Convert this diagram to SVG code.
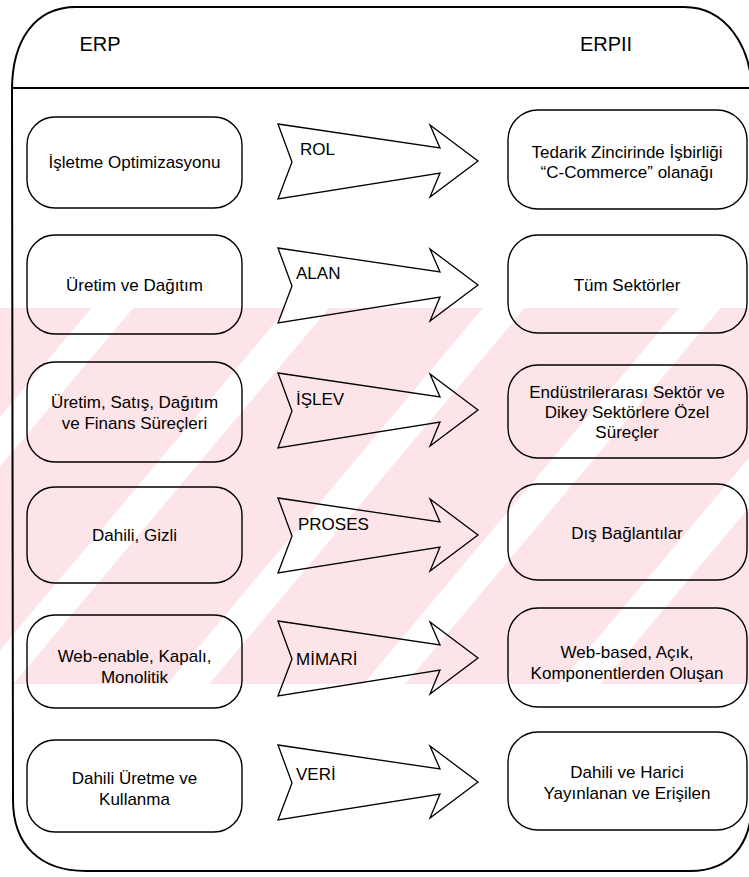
<svg xmlns="http://www.w3.org/2000/svg" width="749" height="877" viewBox="0 0 749 877">
  <style>
    .frame { fill: none; stroke: #000; stroke-width: 2; }
    .box { fill: none; stroke: #000; stroke-width: 1.4; }
    .arrow { fill: none; stroke: #000; stroke-width: 1.3; stroke-linejoin: miter; }
    .head { font-family: "Liberation Sans", Arial, sans-serif; font-size: 20px; fill: #000; text-anchor: middle; }
    .txt { font-family: "Liberation Sans", Arial, sans-serif; font-size: 17px; fill: #000; text-anchor: middle; }
    .lbl { font-family: "Liberation Sans", Arial, sans-serif; font-size: 17px; fill: #000; }
    .wm { fill: #fce4e8; }
  </style>
  <defs>
    <pattern id="stripes" patternUnits="userSpaceOnUse" width="150" height="150" patternTransform="rotate(40)">
      <rect x="0" y="0" width="118" height="150" class="wm"/>
    </pattern>
    <!-- arrow outline centred on y=0 -->
    <path id="arr" d="M278,-37 L440,-13 L430,-36 L478,0 L430,36 L440,12 L278,38 L292,1 Z"/>
  </defs>

  <rect width="749" height="877" fill="#fff"/>

  <!-- faint background band -->
  <g id="watermark">
    <rect x="0" y="308" width="749" height="376" fill="url(#stripes)"/>
  </g>

  <!-- outer frame and header divider -->
  <g id="frame">
    <path class="frame" d="M12,90 C12,40 35,7 76,7 L684,7 C725,7 752,45 752,95 L752,800 C752,845 730,871 690,871 L86,871 C40,871 13,845 13,800 Z"/>
    <line class="frame" x1="12" y1="88" x2="749" y2="88"/>
    <text class="head" x="100" y="51">ERP</text>
    <text class="head" x="606" y="51">ERPII</text>
  </g>

  <!-- ERP column -->
  <g id="erp-rol"><rect class="box" x="27" y="117" width="215" height="91" rx="28"/>
    <text class="txt" x="134.5" y="168">İşletme Optimizasyonu</text></g>
  <g id="erp-alan"><rect class="box" x="27" y="235" width="215" height="99" rx="28"/>
    <text class="txt" x="134.5" y="291">Üretim ve Dağıtım</text></g>
  <g id="erp-islev"><rect class="box" x="27" y="362" width="215" height="100" rx="28"/>
    <text class="txt" x="134.5" y="408">Üretim, Satış, Dağıtım</text>
    <text class="txt" x="134.5" y="429">ve Finans Süreçleri</text></g>
  <g id="erp-proses"><rect class="box" x="27" y="487" width="215" height="96" rx="28"/>
    <text class="txt" x="134.5" y="541">Dahili, Gizli</text></g>
  <g id="erp-mimari"><rect class="box" x="27" y="615" width="215" height="93" rx="28"/>
    <text class="txt" x="134.5" y="662">Web-enable, Kapalı,</text>
    <text class="txt" x="134.5" y="683">Monolitik</text></g>
  <g id="erp-veri"><rect class="box" x="27" y="740" width="215" height="92" rx="28"/>
    <text class="txt" x="134.5" y="784">Dahili Üretme ve</text>
    <text class="txt" x="134.5" y="805">Kullanma</text></g>

  <!-- ERPII column -->
  <g id="erp2-rol"><rect class="box" x="508" y="110" width="239" height="99" rx="30"/>
    <text class="txt" x="627" y="158">Tedarik Zincirinde İşbirliği</text>
    <text class="txt" x="627" y="178">“C-Commerce” olanağı</text></g>
  <g id="erp2-alan"><rect class="box" x="508" y="235" width="239" height="98" rx="30"/>
    <text class="txt" x="627" y="291">Tüm Sektörler</text></g>
  <g id="erp2-islev"><rect class="box" x="508" y="365" width="239" height="93" rx="30"/>
    <text class="txt" x="627" y="398">Endüstrilerarası Sektör ve</text>
    <text class="txt" x="627" y="418">Dikey Sektörlere Özel</text>
    <text class="txt" x="627" y="438">Süreçler</text></g>
  <g id="erp2-proses"><rect class="box" x="508" y="484" width="239" height="96" rx="30"/>
    <text class="txt" x="627" y="539">Dış Bağlantılar</text></g>
  <g id="erp2-mimari"><rect class="box" x="508" y="608" width="239" height="99" rx="30"/>
    <text class="txt" x="627" y="658">Web-based, Açık,</text>
    <text class="txt" x="627" y="679">Komponentlerden Oluşan</text></g>
  <g id="erp2-veri"><rect class="box" x="508" y="732" width="239" height="98" rx="30"/>
    <text class="txt" x="627" y="778">Dahili ve Harici</text>
    <text class="txt" x="627" y="799">Yayınlanan ve Erişilen</text></g>

  <!-- transition arrows with their dimension labels -->
  <g id="connectors">
    <use href="#arr" class="arrow" y="161"/>
    <use href="#arr" class="arrow" y="285"/>
    <use href="#arr" class="arrow" y="410"/>
    <use href="#arr" class="arrow" y="535"/>
    <use href="#arr" class="arrow" y="658"/>
    <use href="#arr" class="arrow" y="782"/>
    <text class="lbl" x="300" y="155">ROL</text>
    <text class="lbl" x="296" y="279">ALAN</text>
    <text class="lbl" x="296" y="405">İŞLEV</text>
    <text class="lbl" x="298" y="530">PROSES</text>
    <text class="lbl" x="296" y="665">MİMARİ</text>
    <text class="lbl" x="296" y="780">VERİ</text>
  </g>
</svg>
